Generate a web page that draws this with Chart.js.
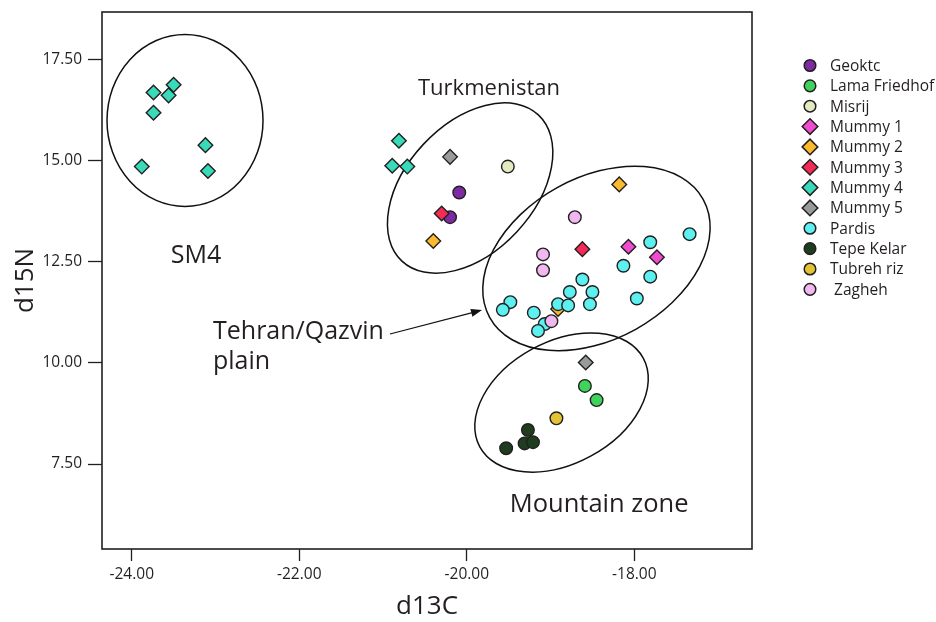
<!DOCTYPE html>
<html>
<head>
<meta charset="utf-8">
<title>d13C / d15N</title>
<script src="https://cdn.jsdelivr.net/npm/chart.js@4.4.1/dist/chart.umd.min.js"></script>
<style>
  html, body { margin: 0; padding: 0; background: #fff; }
  #wrap { width: 936px; height: 622px; }
</style>
</head>
<body>
<div id="wrap"><canvas id="isotopeChart" width="936" height="622"></canvas></div>
<script>
// Legend names, in legend order
const groups = ['Geoktc', 'Lama Friedhof', 'Misrij', 'Mummy 1', 'Mummy 2', 'Mummy 3',
                'Mummy 4', 'Mummy 5', 'Pardis', 'Tepe Kelar', 'Tubreh riz', ' Zagheh'];

// d13C (x) and d15N (y) per group
const geoktcC = [-20.09, -20.20];
const geoktcN = [14.21, 13.60];
const lamaC = [-18.59, -18.45];
const lamaN = [9.43, 9.08];
const misrijC = [-19.51];
const misrijN = [14.85];
const mummy1C = [-18.07, -17.73];
const mummy1N = [12.87, 12.61];
const mummy2C = [-20.40, -18.18, -18.91];
const mummy2N = [13.01, 14.41, 11.33];
const mummy3C = [-20.30, -18.62];
const mummy3N = [13.69, 12.81];
const mummy4C = [-23.74, -23.50, -23.56, -23.74, -23.12, -23.88, -23.09, -20.81, -20.89, -20.71];
const mummy4N = [16.68, 16.87, 16.61, 16.18, 15.38, 14.85, 14.74, 15.49, 14.87, 14.85];
const mummy5C = [-20.20, -18.58];
const mummy5N = [15.09, 10.01];
const pardisC = [-17.34, -17.81, -18.13, -17.81, -18.62, -18.77, -18.50, -17.97,
                 -19.48, -19.57, -19.20, -18.91, -18.79, -18.53, -19.07, -19.15];
const pardisN = [13.18, 12.98, 12.40, 12.13, 12.06, 11.75, 11.75, 11.59,
                 11.50, 11.31, 11.24, 11.45, 11.42, 11.45, 10.96, 10.79];
const tepeKelarC = [-19.27, -19.31, -19.21, -19.53];
const tepeKelarN = [8.34, 8.01, 8.04, 7.89];
const tubrehC = [-18.93];
const tubrehN = [8.63];
const zaghehC = [-18.71, -19.09, -19.09, -18.99];
const zaghehN = [13.60, 12.68, 12.29, 11.03];

// Tick labels on both axes
const xTicks = [-24, -22, -20, -18];
const yTicks = [7.5, 10, 12.5, 15, 17.5];

// Axis ranges
const xMin = -24.355, xMax = -16.595;
const yMin = 5.40, yMax = 18.67;

const ink = '#231f20';
const fontFamily = "'Open Sans', 'Liberation Sans', sans-serif";

// Marker look per group
const groupColors = ['#7e2aa3', '#3fd35b', '#e3eac0', '#f04ccf', '#fbb92e', '#f42b56',
                     '#38dab9', '#979c9b', '#5cf0f0', '#1d3d1e', '#e3c334', '#f0b7f0'];
const groupShapes = ['circle', 'circle', 'circle', 'rectRot', 'rectRot', 'rectRot',
                     'rectRot', 'rectRot', 'circle', 'circle', 'circle', 'circle'];

const seriesC = [geoktcC, lamaC, misrijC, mummy1C, mummy2C, mummy3C, mummy4C, mummy5C, pardisC, tepeKelarC, tubrehC, zaghehC];
const seriesN = [geoktcN, lamaN, misrijN, mummy1N, mummy2N, mummy3N, mummy4N, mummy5N, pardisN, tepeKelarN, tubrehN, zaghehN];

// Group outlines and labels drawn on top of the plot (centres in data units, sizes in px)
const outlines = [
    { x: -23.364, y: 15.99, rx: 78, ry: 86, angle: 0 },     // SM4
    { x: -19.96, y: 14.32, rx: 100, ry: 64, angle: -47 },   // Turkmenistan
    { x: -18.452, y: 12.58, rx: 122, ry: 81, angle: -29 },  // Tehran/Qazvin
    { x: -18.869, y: 9.02, rx: 93, ry: 61, angle: -28.5 }   // Mountain zone
];
const notes = [
    { text: 'Turkmenistan', x: -19.735, y: 16.62, align: 'center', size: 22 },
    { text: 'SM4', x: -23.232, y: 12.47, align: 'center', size: 25 },
    { text: 'Tehran/Qazvin', x: -23.03, y: 10.58, align: 'left', size: 25 },
    { text: 'plain', x: -23.03, y: 9.85, align: 'left', size: 25 },
    { text: 'Mountain zone', x: -18.42, y: 6.31, align: 'center', size: 25.5 }
];
const arrow = { x1: -20.917, y1: 10.712, x2: -19.818, y2: 11.305 };

// Build one scatter dataset per group
function buildDatasets() {
    return groups.map((name, i) => ({
        label: name,
        data: seriesC[i].map((c, j) => ({ x: c, y: seriesN[i][j] })),
        pointStyle: groupShapes[i],
        pointRadius: groupShapes[i] === 'rectRot' ? 7.3 : 6.3,
        pointHoverRadius: groupShapes[i] === 'rectRot' ? 7.3 : 6.3,
        pointBackgroundColor: groupColors[i],
        pointBorderColor: ink,
        pointBorderWidth: 1.4,
        order: groups.length - 1 - i   // later groups drawn on top
    }));
}

// Frame, ellipses, labels and the arrow
const overlayPlugin = {
    id: 'overlay',
    beforeDatasetsDraw(chart) {
        const ctx = chart.ctx;
        const xs = chart.scales.x, ys = chart.scales.y;
        const area = chart.chartArea;
        ctx.save();
        ctx.strokeStyle = ink;
        ctx.lineWidth = 1.6;
        ctx.strokeRect(area.left, area.top, area.right - area.left, area.bottom - area.top);

        ctx.lineWidth = 1.5;
        ctx.strokeStyle = '#111';
        outlines.forEach(o => {
            ctx.beginPath();
            ctx.ellipse(xs.getPixelForValue(o.x), ys.getPixelForValue(o.y), o.rx, o.ry,
                        o.angle * Math.PI / 180, 0, Math.PI * 2);
            ctx.stroke();
        });

        // arrow towards the Tehran/Qazvin group
        const ax1 = xs.getPixelForValue(arrow.x1), ay1 = ys.getPixelForValue(arrow.y1);
        const ax2 = xs.getPixelForValue(arrow.x2), ay2 = ys.getPixelForValue(arrow.y2);
        const ang = Math.atan2(ay2 - ay1, ax2 - ax1);
        ctx.lineWidth = 1.2;
        ctx.beginPath();
        ctx.moveTo(ax1, ay1);
        ctx.lineTo(ax2 - 8 * Math.cos(ang), ay2 - 8 * Math.sin(ang));
        ctx.stroke();
        ctx.fillStyle = '#111';
        ctx.beginPath();
        ctx.moveTo(ax2, ay2);
        ctx.lineTo(ax2 - 11 * Math.cos(ang) + 4 * Math.sin(ang), ay2 - 11 * Math.sin(ang) - 4 * Math.cos(ang));
        ctx.lineTo(ax2 - 11 * Math.cos(ang) - 4 * Math.sin(ang), ay2 - 11 * Math.sin(ang) + 4 * Math.cos(ang));
        ctx.closePath();
        ctx.fill();

        ctx.fillStyle = ink;
        ctx.textBaseline = 'alphabetic';
        notes.forEach(n => {
            ctx.font = n.size + 'px ' + fontFamily;
            ctx.textAlign = n.align;
            ctx.fillText(n.text, xs.getPixelForValue(n.x), ys.getPixelForValue(n.y));
        });
        ctx.restore();
    }
};

// Legend on the right, drawn with the same point styles as the datasets
const sideLegend = {
    id: 'sideLegend',
    afterDraw(chart) {
        const ctx = chart.ctx;
        const markerX = 810, textX = 830, top = 65.5, rowGap = 20.35;
        ctx.save();
        ctx.font = '15.5px ' + fontFamily;
        ctx.textAlign = 'left';
        ctx.textBaseline = 'middle';
        chart.data.datasets.forEach((ds, i) => {
            const y = top + i * rowGap;
            ctx.fillStyle = ds.pointBackgroundColor;
            ctx.strokeStyle = ink;
            ctx.lineWidth = 1.5;
            Chart.helpers.drawPoint(ctx, {
                pointStyle: ds.pointStyle,
                rotation: 0,
                radius: ds.pointStyle === 'rectRot' ? 7.8 : 5.8,
                borderWidth: 1.5
            }, markerX, y);
            ctx.fillStyle = ink;
            ctx.fillText(ds.label, textX, y + 1);
        });
        ctx.restore();
    }
};

function drawChart() {
    const ctx = document.getElementById('isotopeChart').getContext('2d');
    new Chart(ctx, {
        type: 'scatter',
        data: { datasets: buildDatasets() },
        options: {
            responsive: false,
            animation: false,
            devicePixelRatio: 1,
            layout: { padding: { top: 12, right: 184, bottom: 0, left: 0 } },
            plugins: {
                legend: { display: false },
                tooltip: { enabled: false }
            },
            scales: {
                x: {
                    type: 'linear',
                    min: xMin,
                    max: xMax,
                    afterBuildTicks: axis => { axis.ticks = xTicks.map(v => ({ value: v })); },
                    afterFit: axis => {
                        axis.height = 73;
                        axis.paddingLeft = 0;
                        axis.paddingRight = 0;
                    },
                    border: { display: false },
                    grid: { drawOnChartArea: false, drawTicks: true, tickLength: 12, tickColor: ink, tickWidth: 1.3 },
                    ticks: {
                        callback: v => v.toFixed(2),
                        autoSkip: false,
                        maxRotation: 0,
                        padding: 4,
                        color: ink,
                        font: { family: fontFamily, size: 15.5 }
                    },
                    title: {
                        display: true,
                        text: 'd13C',
                        color: ink,
                        font: { family: fontFamily, size: 26 },
                        padding: { top: 0, bottom: 0 }
                    }
                },
                y: {
                    type: 'linear',
                    min: yMin,
                    max: yMax,
                    afterBuildTicks: axis => { axis.ticks = yTicks.map(v => ({ value: v })); },
                    afterFit: axis => {
                        axis.width = 102;
                        axis.paddingTop = 0;     // the top label is well inside, no extra room needed
                        axis.paddingBottom = 0;
                    },
                    border: { display: false },
                    grid: { drawOnChartArea: false, drawTicks: true, tickLength: 14, tickColor: ink, tickWidth: 1.3 },
                    ticks: {
                        callback: v => v.toFixed(2),
                        autoSkip: false,
                        padding: 6,
                        color: ink,
                        font: { family: fontFamily, size: 15.5 }
                    },
                    title: {
                        display: true,
                        text: 'd15N',
                        color: ink,
                        font: { family: fontFamily, size: 26 },
                        padding: { top: 10, bottom: 0 }
                    }
                }
            }
        },
        plugins: [overlayPlugin, sideLegend]
    });
}

window.onload = drawChart;
</script>
</body>
</html>
